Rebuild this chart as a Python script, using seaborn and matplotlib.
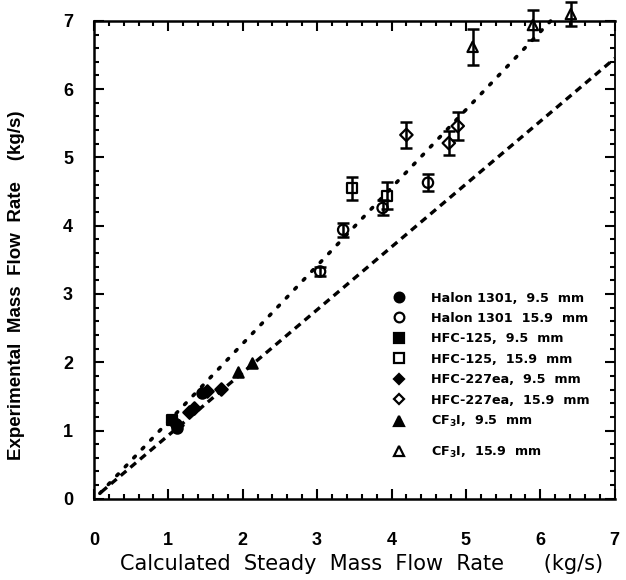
import matplotlib
matplotlib.use("Agg")
import matplotlib.pyplot as plt
import seaborn as sns
import pandas as pd
from matplotlib.lines import Line2D
from matplotlib.ticker import MultipleLocator

# ---------------- data ----------------
series_labels = [
    "Halon 1301,  9.5  mm",
    "Halon 1301  15.9  mm",
    "HFC-125,  9.5  mm",
    "HFC-125,  15.9  mm",
    "HFC-227ea,  9.5  mm",
    "HFC-227ea,  15.9  mm",
    r"CF$_\mathbf{3}$I,  9.5  mm",
    r"CF$_\mathbf{3}$I,  15.9  mm",
]
series_markers = ["o", "o", "s", "s", "D", "D", "^", "^"]
series_filled = [True, False, True, False, True, False, True, False]

# 9.5 mm nozzles (filled symbols)
calc_halon_95 = [1.10, 1.12, 1.45]
exp_halon_95 = [1.10, 1.04, 1.55]
calc_hfc125_95 = [1.05]
exp_hfc125_95 = [1.16]
calc_hfc227_95 = [1.12, 1.28, 1.35, 1.52, 1.71]
exp_hfc227_95 = [1.08, 1.27, 1.33, 1.58, 1.61]
calc_cf3i_95 = [1.94, 2.12]
exp_cf3i_95 = [1.85, 1.99]

# 15.9 mm nozzles (open symbols, with error bars)
calc_halon_159 = [3.04, 3.35, 3.88, 4.49]
exp_halon_159 = [3.33, 3.94, 4.26, 4.63]
err_halon_159 = [0.07, 0.10, 0.11, 0.12]
calc_hfc125_159 = [3.47, 3.94]
exp_hfc125_159 = [4.55, 4.44]
err_hfc125_159 = [0.17, 0.20]
calc_hfc227_159 = [4.20, 4.77, 4.89]
exp_hfc227_159 = [5.33, 5.21, 5.46]
err_hfc227_159 = [0.19, 0.17, 0.21]
calc_cf3i_159 = [5.09, 5.90, 6.41]
exp_cf3i_159 = [6.62, 6.94, 7.10]
err_cf3i_159 = [0.26, 0.22, 0.18]

# reference lines (end points)
dotted_x = [0.08, 6.14]
dotted_y = [0.08, 7.00]
dashed_x = [0.10, 7.00]
dashed_y = [0.10, 6.45]

x_ticks = [0, 1, 2, 3, 4, 5, 6, 7]
y_ticks = [0, 1, 2, 3, 4, 5, 6, 7]

# ---------------- build tables ----------------
calc_all = [calc_halon_95, calc_halon_159, calc_hfc125_95, calc_hfc125_159,
            calc_hfc227_95, calc_hfc227_159, calc_cf3i_95, calc_cf3i_159]
exp_all = [exp_halon_95, exp_halon_159, exp_hfc125_95, exp_hfc125_159,
           exp_hfc227_95, exp_hfc227_159, exp_cf3i_95, exp_cf3i_159]
err_all = [None, err_halon_159, None, err_hfc125_159,
           None, err_hfc227_159, None, err_cf3i_159]

rows = []
for lab, cx, ey, er in zip(series_labels, calc_all, exp_all, err_all):
    for i, (a, b) in enumerate(zip(cx, ey)):
        rows.append({"series": lab, "calc": a, "exp": b,
                     "err": (er[i] if er is not None else 0.0)})
df = pd.DataFrame(rows)

# ---------------- style ----------------
sns.set_theme(style="ticks")
plt.rcParams["font.family"] = ["Liberation Sans", "DejaVu Sans"]
plt.rcParams["font.weight"] = "bold"
plt.rcParams["mathtext.fontset"] = "custom"
plt.rcParams["mathtext.bf"] = "DejaVu Sans:bold"
plt.rcParams["mathtext.rm"] = "DejaVu Sans:bold"
for key in ["text.color", "axes.labelcolor", "xtick.color", "ytick.color",
            "xtick.labelcolor", "ytick.labelcolor"]:
    plt.rcParams[key] = "black"

fig = plt.figure(figsize=(6.26, 5.80), dpi=100)
ax = fig.add_axes([0.150, 0.140, 0.832, 0.824])

# reference lines
sns.lineplot(x=dotted_x, y=dotted_y, ax=ax, color="black", lw=2.6,
             linestyle=(0, (0.6, 2.8)), dash_capstyle="round", clip_on=False)
sns.lineplot(x=dashed_x, y=dashed_y, ax=ax, color="black", lw=2.4,
             linestyle=(0, (2.2, 1.6)), clip_on=False)

# error bars for open symbols
for lab, er in zip(series_labels, err_all):
    if er is None:
        continue
    sub = df[df["series"] == lab]
    ax.errorbar(sub["calc"], sub["exp"], yerr=sub["err"], fmt="none",
                ecolor="black", elinewidth=1.8, capsize=4.5, capthick=1.8,
                clip_on=False, zorder=3)

# symbols
for lab, m, filled in zip(series_labels, series_markers, series_filled):
    sub = df[df["series"] == lab]
    size = 55 if m != "D" else 40
    sns.scatterplot(data=sub, x="calc", y="exp", ax=ax, marker=m, s=size,
                    color="black",
                    facecolor=("black" if filled else "none"),
                    edgecolor="black", linewidth=1.6, clip_on=False,
                    zorder=4, legend=False)

ax.set_xlim(0, 7)
ax.set_ylim(0, 7)
ax.set_xticks(x_ticks)
ax.set_yticks(y_ticks)
ax.xaxis.set_minor_locator(MultipleLocator(0.2))
ax.yaxis.set_minor_locator(MultipleLocator(0.2))
ax.tick_params(which="both", direction="in", top=True, right=True,
               color="black", labelcolor="black", width=1.5)
ax.tick_params(which="major", length=7)
ax.tick_params(which="minor", length=3.5)
ax.tick_params(axis="x", which="major", pad=24, labelsize=13)
ax.tick_params(axis="y", which="major", pad=15, labelsize=13)
for sp in ax.spines.values():
    sp.set_linewidth(1.8)
    sp.set_color("black")
ax.spines["right"].set_linewidth(1.3)

ax.set_xlabel("Calculated  Steady  Mass  Flow  Rate      (kg/s)",
              fontsize=15, fontweight="normal", family="DejaVu Sans",
              color="black")
ax.xaxis.set_label_coords(0.514, -0.115)
ax.set_ylabel("Experimental  Mass  Flow  Rate    (kg/s)",
              fontsize=13.5, fontweight="bold", family="Liberation Sans",
              color="black")
ax.yaxis.set_label_coords(-0.132, 0.446)

# legend (two blocks: the last entry sits a little lower in the original)
legend_prop = {"family": "DejaVu Sans", "weight": "bold", "size": 9.2}
handles = []
for m, filled in zip(series_markers, series_filled):
    handles.append(Line2D([], [], linestyle="none", marker=m,
                          markersize=(7 if m != "D" else 5.5),
                          markerfacecolor=("black" if filled else "white"),
                          markeredgecolor="black", markeredgewidth=1.6))
leg1 = ax.legend(handles[:7], series_labels[:7], loc="upper left",
                 bbox_to_anchor=(0.562, 0.447), frameon=False,
                 prop=legend_prop, handlelength=1.0, handletextpad=2.0,
                 borderpad=0.0, labelspacing=0.58, labelcolor="black")
ax.add_artist(leg1)
ax.legend(handles[7:], series_labels[7:], loc="upper left",
          bbox_to_anchor=(0.562, 0.127), frameon=False,
          prop=legend_prop, handlelength=1.0, handletextpad=2.0,
          borderpad=0.0, labelcolor="black")

fig.savefig("out.png", dpi=100)
